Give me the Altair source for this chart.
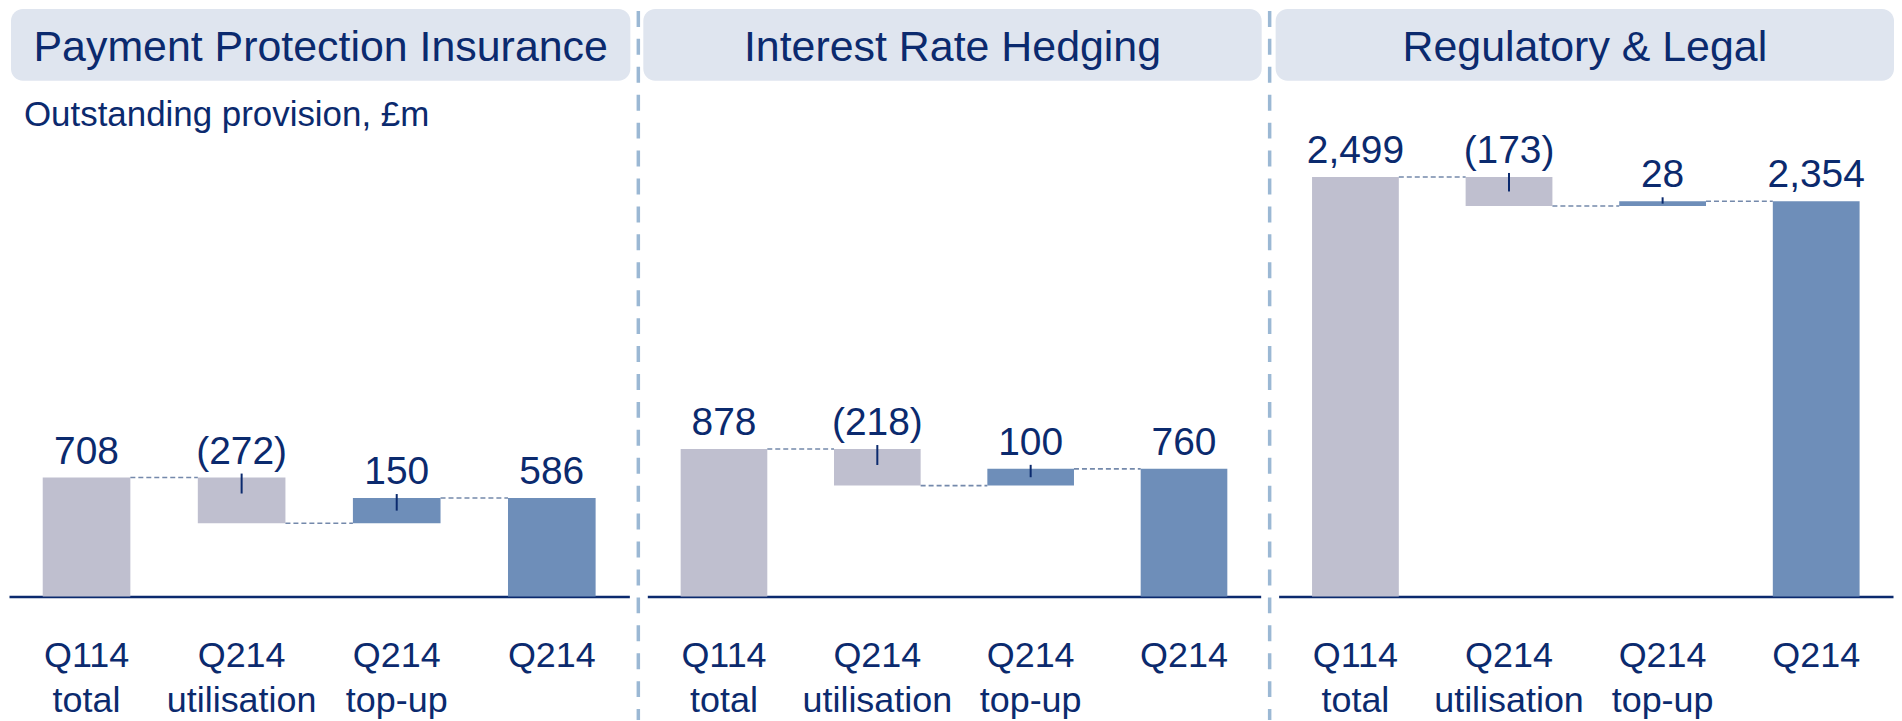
import altair as alt
import pandas as pd

# ---------------- data ----------------
panel_titles = ["Payment Protection Insurance", "Interest Rate Hedging", "Regulatory & Legal"]
categories = ["Q114|total", "Q214|utilisation", "Q214|top-up", "Q214"]
kinds = ["start", "decrease", "increase", "end"]
ppi_values = [708, -272, 150, 586]
irh_values = [878, -218, 100, 760]
rl_values = [2499, -173, 28, 2354]
subtitle = "Outstanding provision, £m"

# ---------------- style ----------------
NAVY = "#0b2a6e"
GREY = "#bfbfcf"
BLUE = "#6e8eb9"
HEADER_BG = "#dfe5ef"
DIVIDER = "#9bb8d4"
CONNECT = "#7489ab"
FONT = "Liberation Sans"

Y_MAX = 3500
H = 589
PPU = H / Y_MAX  # pixels per unit


def fmt(v):
    s = f"{abs(v):,}"
    return f"({s})" if v < 0 else s


def frames(values):
    rows, links = [], []
    running = 0
    for i, (c, k, v) in enumerate(zip(categories, kinds, values)):
        if k in ("start", "end"):
            lo, hi = 0, v
            running = v
        else:
            lo, hi = sorted([running, running + v])
            running = running + v
        tick_lo = max(hi - 16 / PPU, (hi + lo) / 2)
        rows.append(dict(cat=c, kind=k, lo=lo, hi=hi, label=fmt(v),
                         tick_hi=hi, tick_lo=tick_lo,
                         delta=k in ("decrease", "increase")))
        if i < len(categories) - 1:
            links.append({"src": c, "dst": categories[i + 1], "level": running})
    return pd.DataFrame(rows), pd.DataFrame(links)


def panel(title, values, width, header_x, divider_x=None, sub=None):
    bars, links = frames(values)
    xscale = alt.Scale(domain=categories, paddingInner=0.435, paddingOuter=0.2175)
    xaxis = alt.Axis(title=None, labelExpr="split(datum.label, '|')", labelAngle=0,
                     labelFont=FONT, labelFontSize=36, labelColor=NAVY,
                     labelLineHeight=45, labelPadding=42, ticks=False, tickSize=0,
                     domainColor=NAVY, domainWidth=2.5, labelOverlap=False,
                     labelBound=False, labelFlush=False, grid=False)
    yscale = alt.Scale(domain=[0, Y_MAX], nice=False, zero=True)

    base = alt.Chart(bars)
    x = alt.X("cat:N", scale=xscale, axis=xaxis, sort=categories)

    bar_layer = base.mark_bar().encode(
        x=x,
        y=alt.Y("lo:Q", scale=yscale, axis=None),
        y2="hi:Q",
        color=alt.Color("kind:N", scale=alt.Scale(domain=kinds, range=[GREY, GREY, BLUE, BLUE]),
                        legend=None),
    )

    link_layer = alt.Chart(links).mark_rule(color=CONNECT, strokeWidth=1.6, strokeDash=[5, 3]).encode(
        x=alt.X("src:N", scale=xscale, axis=xaxis, sort=categories, bandPosition=1),
        x2=alt.X2("dst:N", bandPosition=0),
        y=alt.Y("level:Q", scale=yscale, axis=None),
    )

    tick_layer = base.transform_filter("datum.delta").mark_rule(
        color=NAVY, strokeWidth=2, yOffset=-4).encode(
        x=x,
        y=alt.Y("tick_hi:Q", scale=yscale, axis=None),
        y2="tick_lo:Q",
    )

    label_layer = base.mark_text(font=FONT, fontSize=39, color=NAVY, dy=-14,
                                 baseline="alphabetic", align="center").encode(
        x=x,
        y=alt.Y("hi:Q", scale=yscale, axis=None),
        text="label:N",
    )

    tdf = pd.DataFrame({"title": [title]})
    header_rect = alt.Chart(tdf).mark_rect(color=HEADER_BG, cornerRadius=12).encode(
        x=alt.value(header_x[0]), x2=alt.value(header_x[1]),
        y=alt.value(0), y2=alt.value(72),
    )
    header_text = alt.Chart(tdf).mark_text(font=FONT, fontSize=43, color=NAVY,
                                           baseline="middle", align="center").encode(
        x=alt.value((header_x[0] + header_x[1]) / 2), y=alt.value(39.5), text="title:N",
    )

    layers = [header_rect, header_text, bar_layer, link_layer, tick_layer, label_layer]

    if sub is not None:
        sdf = pd.DataFrame({"sub": [sub]})
        layers.append(alt.Chart(sdf).mark_text(font=FONT, fontSize=35, color=NAVY,
                                               align="left", baseline="alphabetic").encode(
            x=alt.value(15), y=alt.value(117), text="sub:N"))

    if divider_x is not None:
        ddf = pd.DataFrame({"d": [1]})
        layers.append(alt.Chart(ddf).mark_rule(color=DIVIDER, strokeWidth=3.5,
                                               strokeDash=[16, 12]).encode(
            x=alt.value(divider_x), y=alt.value(2), y2=alt.value(713)))

    return alt.layer(*layers).properties(width=width, height=H)


p1 = panel(panel_titles[0], ppi_values, 622, (2, 623), divider_x=631, sub=subtitle)
p2 = panel(panel_titles[1], irh_values, 615, (-4, 616), divider_x=624)
p3 = panel(panel_titles[2], rl_values, 616, (-3, 617))

chart = alt.hconcat(p1, p2, p3, spacing=18, bounds="flush").resolve_scale(
    x="independent", y="independent", color="independent"
).properties(
    padding={"left": 1, "top": 0, "right": 0, "bottom": 0}
).configure_view(stroke=None)

chart.save("out.html", embed_options={"renderer": "svg", "actions": False})
